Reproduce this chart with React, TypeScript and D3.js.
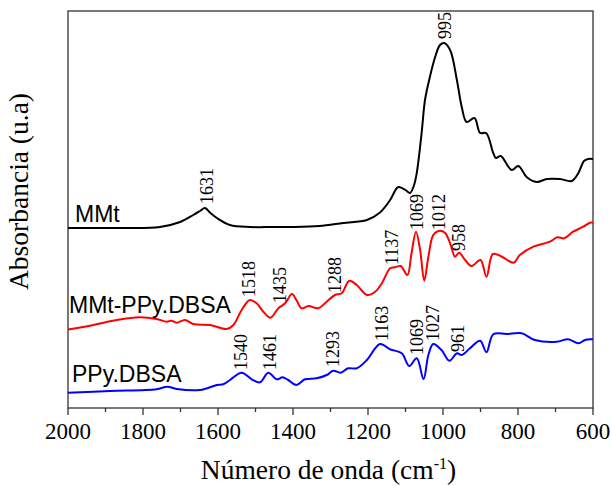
import * as d3 from "d3";

// wavenumber (cm-1), absorbance (u.a., offset stacked)
const mmtSpectrum: [number, number][] = [
  [2000, 1.8], [1900, 1.8], [1844, 1.8], [1755, 1.81], [1701, 1.86], [1666, 1.93],
  [1648, 1.97], [1635, 2.0], [1620, 1.95], [1603, 1.9], [1568, 1.83], [1515, 1.81],
  [1450, 1.81], [1399, 1.81], [1330, 1.82], [1266, 1.85], [1203, 1.88], [1168, 1.955],
  [1141, 2.08], [1123, 2.2], [1117, 2.21], [1100, 2.18], [1088, 2.15], [1078, 2.22],
  [1070, 2.35], [1057, 2.75], [1048, 3.08], [1035, 3.31], [1021, 3.51], [1008, 3.63],
  [997, 3.65], [981, 3.58], [963, 3.28], [950, 3.01], [937, 2.86], [916, 2.9],
  [901, 2.75], [885, 2.75], [866, 2.55], [859, 2.5], [846, 2.52], [817, 2.38],
  [799, 2.42], [777, 2.31], [750, 2.26], [723, 2.29], [688, 2.29], [657, 2.27],
  [639, 2.35], [624, 2.47], [613, 2.49], [600, 2.49],
];

const compositeSpectrum: [number, number][] = [
  [2000, 0.785], [1932, 0.83], [1870, 0.88], [1808, 0.907], [1764, 0.89], [1737, 0.863],
  [1724, 0.873], [1710, 0.853], [1688, 0.88], [1666, 0.84], [1621, 0.83], [1577, 0.79],
  [1559, 0.83], [1537, 0.98], [1515, 1.08], [1497, 1.047], [1479, 0.963], [1460, 0.903],
  [1439, 0.997], [1421, 1.047], [1403, 1.14], [1391, 1.08], [1377, 0.997], [1359, 1.02],
  [1333, 0.997], [1310, 1.063], [1288, 1.13], [1270, 1.147], [1250, 1.273], [1230, 1.23],
  [1203, 1.13], [1181, 1.163], [1163, 1.247], [1141, 1.397], [1128, 1.407], [1113, 1.42],
  [1095, 1.33], [1084, 1.547], [1072, 1.763], [1061, 1.58], [1050, 1.273], [1039, 1.513],
  [1026, 1.73], [1012, 1.77], [995, 1.753], [981, 1.647], [968, 1.513], [957, 1.553],
  [941, 1.48], [924, 1.42], [900, 1.48], [884, 1.313], [867, 1.54], [843, 1.513],
  [812, 1.453], [795, 1.53], [759, 1.613], [715, 1.663], [695, 1.707], [677, 1.697],
  [653, 1.763], [626, 1.813], [608, 1.853], [600, 1.853],
];

const ppySpectrum: [number, number][] = [
  [2000, 0.153], [1888, 0.17], [1764, 0.187], [1735, 0.213], [1710, 0.19], [1648, 0.18],
  [1603, 0.23], [1586, 0.237], [1568, 0.28], [1537, 0.353], [1510, 0.287], [1488, 0.257],
  [1466, 0.353], [1443, 0.287], [1428, 0.307], [1413, 0.28], [1391, 0.23], [1368, 0.287],
  [1337, 0.297], [1310, 0.33], [1293, 0.373], [1273, 0.353], [1253, 0.397], [1230, 0.397],
  [1203, 0.48], [1168, 0.64], [1141, 0.587], [1110, 0.547], [1090, 0.42], [1070, 0.497],
  [1052, 0.287], [1039, 0.53], [1026, 0.64], [1004, 0.58], [983, 0.473], [963, 0.547],
  [950, 0.53], [928, 0.597], [901, 0.673], [884, 0.557], [866, 0.737], [830, 0.74],
  [790, 0.747], [755, 0.68], [697, 0.663], [666, 0.687], [639, 0.647], [621, 0.68],
  [606, 0.687], [600, 0.687],
];

// peak annotations: wavenumber, level where the text starts
const mmtPeaks: [number, number][] = [[1631, 2.04], [995, 3.69]];
const compositePeaks: [number, number][] = [
  [1518, 1.11], [1435, 1.05], [1288, 1.15], [1137, 1.43], [1069, 1.78], [1012, 1.78], [958, 1.57],
];
const ppyPeaks: [number, number][] = [
  [1540, 0.38], [1461, 0.38], [1293, 0.41], [1163, 0.67], [1069, 0.53], [1027, 0.67], [961, 0.56],
];

const xMajorTicks = [2000, 1800, 1600, 1400, 1200, 1000, 800, 600];
const xMinorTicks = [1900, 1700, 1500, 1300, 1100, 900, 700];

const W = 611;
const H = 486;
const margin = { left: 68, right: 18, top: 11, bottom: 78 };
const SERIF = "'Liberation Serif', 'Times New Roman', serif";
const SANS = "'Liberation Sans', Arial, sans-serif";

const series = [
  { name: "MMt", data: mmtSpectrum, peaks: mmtPeaks, color: "#000000", lx: 75, ly: 222 },
  { name: "MMt-PPy.DBSA", data: compositeSpectrum, peaks: compositePeaks, color: "#ff0000", lx: 69, ly: 313 },
  { name: "PPy.DBSA", data: ppySpectrum, peaks: ppyPeaks, color: "#0000ff", lx: 72, ly: 382 },
];

export default function App() {
  const x = d3.scaleLinear().domain([2000, 600]).range([margin.left, W - margin.right]);
  const y = d3.scaleLinear().domain([0, 3.97]).range([H - margin.bottom, margin.top]);

  const line = d3
    .line<[number, number]>()
    .x((d) => x(d[0]))
    .y((d) => y(d[1]))
    .curve(d3.curveCatmullRom.alpha(0.5));

  const bottom = H - margin.bottom;

  return (
    <svg
      width={W}
      height={H}
      style={{ position: "absolute", left: 0, top: 0, background: "#fff" }}
    >
      {/* frame */}
      <rect
        x={margin.left}
        y={margin.top}
        width={W - margin.left - margin.right}
        height={bottom - margin.top}
        fill="none"
        stroke="#333"
        strokeWidth={1.3}
      />

      {/* spectra */}
      {series.map((s) => (
        <path key={s.name} d={line(s.data) || ""} fill="none" stroke={s.color} strokeWidth={2} strokeLinejoin="round" />
      ))}

      {/* peak labels */}
      {series.map((s) =>
        s.peaks.map(([w, v]) => (
          <text
            key={s.name + w}
            transform={`translate(${x(w)},${y(v)}) rotate(-90)`}
            dy="0.35em"
            fontFamily={SERIF}
            fontSize={18}
            fill="#000"
          >
            {w}
          </text>
        ))
      )}

      {/* series names */}
      {series.map((s) => (
        <text key={"lbl" + s.name} x={s.lx} y={s.ly} fontFamily={SANS} fontSize={23} fill="#000">
          {s.name}
        </text>
      ))}

      {/* x axis ticks */}
      {xMajorTicks.map((t) => (
        <g key={"M" + t}>
          <line x1={x(t)} x2={x(t)} y1={bottom} y2={bottom + 7} stroke="#333" strokeWidth={1.3} />
          <text x={x(t)} y={bottom + 31} textAnchor="middle" fontFamily={SERIF} fontSize={23} fill="#000">
            {t}
          </text>
        </g>
      ))}
      {xMinorTicks.map((t) => (
        <line key={"m" + t} x1={x(t)} x2={x(t)} y1={bottom} y2={bottom + 4} stroke="#333" strokeWidth={1.3} />
      ))}

      {/* axis titles */}
      <text x={(margin.left + W - margin.right) / 2 - 2} y={479} textAnchor="middle" fontFamily={SERIF} fontSize={27.5} fill="#000">
        Número de onda (cm
        <tspan dy={-10} fontSize={16}>-1</tspan>
        <tspan dy={10}>)</tspan>
      </text>
      <text
        transform={`translate(28,${(margin.top + bottom) / 2 - 18}) rotate(-90)`}
        textAnchor="middle"
        fontFamily={SERIF}
        fontSize={27.5}
        fill="#000"
      >
        Absorbancia (u.a)
      </text>
    </svg>
  );
}
